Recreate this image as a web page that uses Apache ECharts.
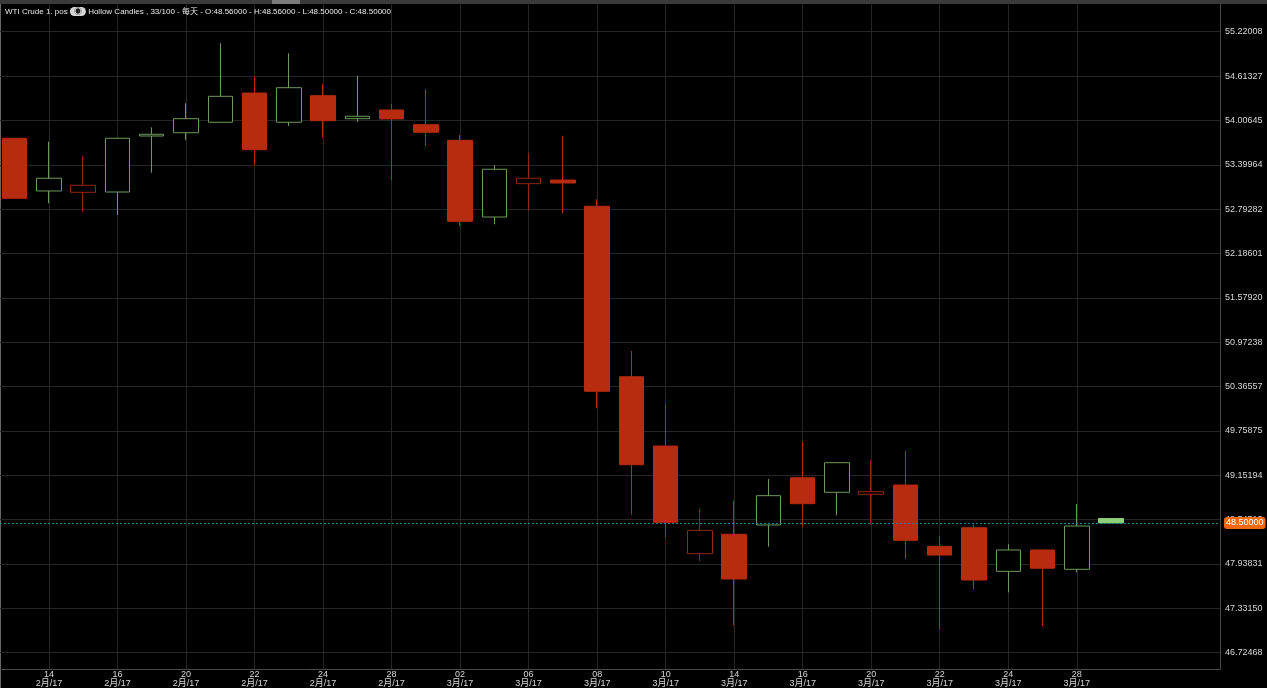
<!DOCTYPE html>
<html>
<head>
<meta charset="utf-8">
<script src="https://cdn.jsdelivr.net/npm/echarts@6/dist/echarts.min.js"></script>
<style>
html,body{margin:0;padding:0;background:#000;}
#c{width:1267px;height:688px;}
</style>
</head>
<body>
<div id="c"></div>
<script>
// ---- data ----
const dates = ['2017-02-13','2017-02-14','2017-02-15','2017-02-16','2017-02-17','2017-02-20','2017-02-21','2017-02-22','2017-02-23','2017-02-24','2017-02-27','2017-02-28','2017-03-01','2017-03-02','2017-03-03','2017-03-06','2017-03-07','2017-03-08','2017-03-09','2017-03-10','2017-03-13','2017-03-14','2017-03-15','2017-03-16','2017-03-17','2017-03-20','2017-03-21','2017-03-22','2017-03-23','2017-03-24','2017-03-27','2017-03-28','2017-03-29'];
const opens  = [53.762,53.041,53.023,53.027,53.793,53.838,53.981,54.381,53.981,54.345,54.030,54.149,53.948,53.734,52.685,53.141,53.191,52.832,50.500,49.552,48.079,48.345,48.472,49.119,48.919,48.892,49.019,48.180,48.435,47.838,48.130,47.866,48.560];
const closes = [52.941,53.215,53.119,53.762,53.817,54.030,54.336,53.606,54.454,54.003,54.063,54.026,53.844,52.626,53.338,53.215,53.150,50.301,49.297,48.509,48.399,47.733,48.873,48.763,49.324,48.927,48.262,48.061,47.719,48.130,47.880,48.458,48.500];
const lows   = [52.941,52.873,52.754,52.713,53.291,53.739,53.981,53.396,53.930,53.770,53.985,53.191,53.656,52.562,52.585,52.771,52.736,50.068,48.613,48.303,47.979,47.100,48.175,48.449,48.603,48.472,48.007,47.045,47.592,47.551,47.090,47.825,48.500];
const highs  = [53.762,53.715,53.520,53.762,53.912,54.241,55.061,54.605,54.925,54.500,54.614,54.231,54.436,53.807,53.396,53.557,53.797,52.927,50.852,50.137,48.690,48.800,49.101,49.611,49.324,49.361,49.488,48.321,48.481,48.208,48.130,48.759,48.560];
const yTicks = [46.72468,47.33150,47.93831,48.54513,49.15194,49.75875,50.36557,50.97238,51.57920,52.18601,52.79282,53.39964,54.00645,54.61327,55.22008];
const xTickIdx = [1,3,5,7,9,11,13,15,17,19,21,23,25,27,29,31];
const lastPrice = 48.5;
const titleText = 'WTI Crude 1. pos {eye|◉} Hollow Candles , 33/100 - 每天 - O:48.56000 - H:48.56000 - L:48.50000 - C:48.50000';

// ---- styles ----
const RED = '#b72b0f', RED_HOLLOW = '#922611', GREEN = '#6c9a5a', GREEN_FILL = '#8fd07a';
const FONT = '"Liberation Sans", Arial, "Noto Sans CJK SC", sans-serif';

const candleData = dates.map((d, i) => {
  const o = opens[i], c = closes[i];
  const prev = i > 0 ? closes[i - 1] : Infinity;
  const rising = c >= prev;
  const item = { value: [i, o, c, lows[i], highs[i]] };
  if (c > o) {
    item.itemStyle = { color: '#000', borderColor: rising ? GREEN : RED_HOLLOW };
  } else {
    const fill = rising ? GREEN_FILL : RED;
    item.itemStyle = { color0: fill, borderColor0: fill };
  }
  return item;
});

function xLabel(v) {
  const i = Math.round(v);
  const d = dates[i];
  if (!d) return '';
  const parts = d.split('-');
  return parts[2] + '\n' + parseInt(parts[1], 10) + '月/' + parts[0].slice(2);
}

const chart = echarts.init(document.getElementById('c'), null, { renderer: 'canvas' });
chart.setOption({
  animation: false,
  backgroundColor: '#000',
  title: {
    text: titleText,
    left: 5, top: 7, padding: 0,
    textStyle: {
      fontSize: 8, color: '#e8e8e8', fontWeight: 'normal', fontFamily: FONT,
      rich: {
        eye: { backgroundColor: '#d6d6d6', color: '#222', borderRadius: 5, padding: [1, 4, 0, 4], fontSize: 8 }
      }
    }
  },
  graphic: [
    { type: 'rect', shape: { x: 0, y: 0, width: 1267, height: 4 }, style: { fill: '#3a3a3a' }, silent: true },
    { type: 'rect', shape: { x: 272, y: 0, width: 28, height: 4 }, style: { fill: '#7a7a7a' }, silent: true },
    { type: 'line', shape: { x1: 0.5, y1: 4, x2: 0.5, y2: 688 }, style: { stroke: '#666', lineWidth: 1 }, silent: true }
  ],
  grid: { left: 0, right: 47, top: 4.5, bottom: 19 },
  xAxis: {
    type: 'value',
    min: -0.429, max: 35.18,
    axisLine: { show: true, onZero: false, lineStyle: { color: '#4a4a4a' } },
    axisTick: { show: false, customValues: xTickIdx },
    splitLine: { show: true, lineStyle: { color: '#262626', width: 1 } },
    axisLabel: {
      customValues: xTickIdx,
      formatter: xLabel,
      color: '#d8d8d8', fontSize: 9, lineHeight: 9, margin: 1, fontFamily: FONT
    }
  },
  yAxis: {
    type: 'value',
    position: 'right',
    min: 46.502, max: 55.592,
    axisLine: { show: true, onZero: false, lineStyle: { color: '#4a4a4a' } },
    axisTick: { show: false, customValues: yTicks },
    splitLine: { show: true, lineStyle: { color: '#262626', width: 1 } },
    axisLabel: {
      customValues: yTicks,
      formatter: v => v.toFixed(5),
      color: '#d8d8d8', fontSize: 9, margin: 5, fontFamily: FONT
    }
  },
  series: [{
    type: 'candlestick',
    barWidth: 25,
    encode: { x: 0, y: [1, 2, 3, 4] },
    itemStyle: { color: '#000', color0: RED, borderColor: GREEN, borderColor0: RED, borderWidth: 1 },
    data: candleData,
    markLine: {
      silent: true,
      symbol: 'none',
      data: [{ yAxis: lastPrice }],
      lineStyle: { color: '#1a8296', type: [2, 2], width: 1 },
      label: {
        position: 'end', distance: 4,
        formatter: () => lastPrice.toFixed(5),
        backgroundColor: '#f0690f', color: '#fff', borderRadius: 3,
        padding: [2, 2, 1, 2], fontSize: 9, fontFamily: FONT
      }
    }
  }]
});
</script>
</body>
</html>
